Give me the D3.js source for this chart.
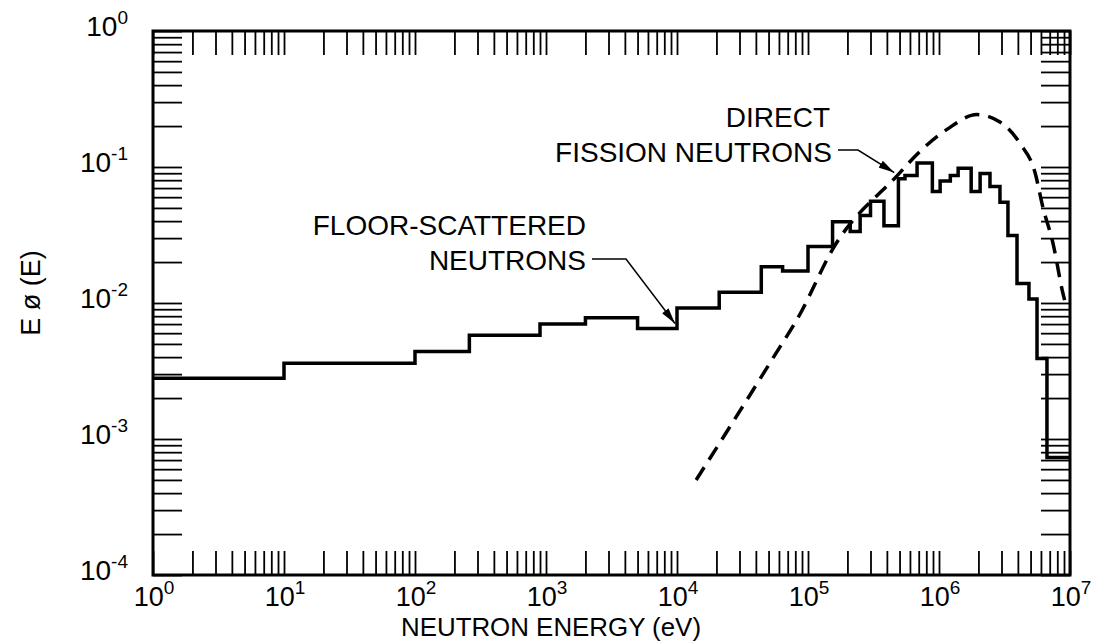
<!DOCTYPE html>
<html>
<head>
<meta charset="utf-8">
<script src="https://cdn.jsdelivr.net/npm/d3@7"></script>
<style>
  html, body { margin: 0; padding: 0; background: #fff; }
  svg { display: block; }
  text { font-family: "Liberation Sans", Arial, Helvetica, sans-serif; fill: #000; }
</style>
</head>
<body>
<svg id="chart" width="1101" height="641"></svg>
<script>
// Energy bin edges (eV) of the floor-scattered spectrum
const binEdges = [1, 10, 100, 260, 900, 2000, 5000, 1e4,
  2.1e4, 4.4e4, 6.4e4, 1e5, 1.54e5, 2.1e5, 2.5e5, 3.0e5, 3.8e5, 4.9e5,
  5.5e5, 6.8e5, 8.9e5, 1.02e6, 1.22e6, 1.4e6, 1.76e6,
  2.06e6, 2.45e6, 2.92e6, 3.36e6, 3.94e6, 4.86e6, 5.6e6, 6.67e6, 1e7];

// E·phi(E) per bin for floor-scattered neutrons
const floorScattered = [2.8e-3, 3.6e-3, 4.4e-3, 5.8e-3, 7.0e-3, 7.8e-3, 6.5e-3,
  9.2e-3, 0.012, 0.0185, 0.0172, 0.026, 0.0395, 0.0335, 0.044, 0.056, 0.037,
  0.082, 0.0865, 0.107, 0.066, 0.079, 0.0865, 0.098, 0.066, 0.0897, 0.072,
  0.055, 0.0313, 0.0139, 0.0107, 0.0039, 7.3e-4];

// Direct fission spectrum (energy eV, E·phi(E))
const fissionEnergy = [1.4e4, 5.46e4, 8.7e4, 1.54e5, 4.8e5, 7.2e5, 1.15e6,
  1.95e6, 2.92e6, 4.15e6, 5.4e6, 6.22e6, 7.41e6, 8.83e6, 9.1e6];
const fissionValue = [5.0e-4, 4.0e-3, 8.3e-3, 0.0248, 0.0865, 0.131, 0.189,
  0.243, 0.214, 0.149, 0.0914, 0.0502, 0.0276, 0.0118, 0.0105];

// Axis decades (exponents) used for tick labels
const xExponents = [0, 1, 2, 3, 4, 5, 6, 7];
const yExponents = [0, -1, -2, -3, -4];

const svg = d3.select("#chart");
const frame = { left: 153, right: 1070, top: 31, bottom: 575 };

const x = d3.scaleLog().domain([1, 1e7]).range([frame.left, frame.right]);
const y = d3.scaleLog().domain([1e-4, 1]).range([frame.bottom, frame.top]);

const tickLenX = 24, tickLenY = 29;

// Minor + major ticks on all four sides, pointing inward
function styleAxis(g) {
  g.select(".domain").remove();
  g.selectAll(".tick line").attr("stroke", "#000").attr("stroke-width", 1.8);
}
svg.append("g").attr("transform", `translate(0,${frame.bottom})`)
  .call(d3.axisBottom(x).tickValues(x.ticks()).tickSize(-tickLenX).tickFormat(""))
  .call(styleAxis);
svg.append("g").attr("transform", `translate(0,${frame.top})`)
  .call(d3.axisTop(x).tickValues(x.ticks()).tickSize(-tickLenX).tickFormat(""))
  .call(styleAxis);
svg.append("g").attr("transform", `translate(${frame.left},0)`)
  .call(d3.axisLeft(y).tickValues(y.ticks()).tickSize(-tickLenY).tickFormat(""))
  .call(styleAxis);
svg.append("g").attr("transform", `translate(${frame.right},0)`)
  .call(d3.axisRight(y).tickValues(y.ticks()).tickSize(-tickLenY).tickFormat(""))
  .call(styleAxis);

// Frame
svg.append("rect")
  .attr("x", frame.left).attr("y", frame.top)
  .attr("width", frame.right - frame.left).attr("height", frame.bottom - frame.top)
  .attr("fill", "none").attr("stroke", "#000").attr("stroke-width", 3);

// Power-of-ten labels
function powerLabel(sel, exp) {
  sel.append("tspan").text("10");
  sel.append("tspan").attr("dy", -12).attr("font-size", 19).text(String(exp));
}
xExponents.forEach(e => {
  const t = svg.append("text")
    .attr("x", x(Math.pow(10, e)) + 1).attr("y", frame.bottom + 31)
    .attr("text-anchor", "middle").attr("font-size", 27);
  powerLabel(t, e);
});
yExponents.forEach(e => {
  const t = svg.append("text")
    .attr("x", 128).attr("y", y(Math.pow(10, e)) + 5)
    .attr("text-anchor", "end").attr("font-size", 28);
  powerLabel(t, e);
});

// Axis titles
svg.append("text")
  .attr("x", 551).attr("y", 635.5)
  .attr("text-anchor", "middle").attr("font-size", 25)
  .attr("textLength", 300).attr("lengthAdjust", "spacingAndGlyphs")
  .text("NEUTRON ENERGY (eV)");
svg.append("text")
  .attr("transform", "translate(40,293) rotate(-90)")
  .attr("text-anchor", "middle").attr("font-size", 27)
  .text("E \u00f8 (E)");

// Floor-scattered histogram
const histPts = floorScattered.map((v, i) => [binEdges[i], v]);
histPts.push([binEdges[binEdges.length - 1], floorScattered[floorScattered.length - 1]]);
svg.append("path")
  .attr("d", d3.line().x(d => x(d[0])).y(d => y(d[1])).curve(d3.curveStepAfter)(histPts))
  .attr("fill", "none").attr("stroke", "#000").attr("stroke-width", 3.5)
  .attr("stroke-linejoin", "miter");

// Direct fission spectrum, dashed
svg.append("path")
  .attr("d", d3.line().x((d, i) => x(fissionEnergy[i])).y((d, i) => y(fissionValue[i]))
    .curve(d3.curveMonotoneX)(fissionEnergy))
  .attr("fill", "none").attr("stroke", "#000").attr("stroke-width", 3.5)
  .attr("stroke-dasharray", "15,9");

// Annotations with leader arrows
svg.append("defs").append("marker")
  .attr("id", "arrow").attr("viewBox", "0 0 16 8")
  .attr("refX", 16).attr("refY", 4)
  .attr("markerWidth", 16).attr("markerHeight", 8)
  .attr("markerUnits", "userSpaceOnUse").attr("orient", "auto")
  .append("path").attr("d", "M0,0 L16,4 L0,8 Z").attr("fill", "#000");

function annotate(lines, rights, baselines, leader) {
  lines.forEach((s, i) => {
    svg.append("text").attr("x", rights[i]).attr("y", baselines[i])
      .attr("text-anchor", "end").attr("font-size", 28).text(s);
  });
  svg.append("path")
    .attr("d", d3.line()(leader))
    .attr("fill", "none").attr("stroke", "#000").attr("stroke-width", 1.5)
    .attr("marker-end", "url(#arrow)");
}

annotate(["FLOOR-SCATTERED", "NEUTRONS"], [586, 586], [235, 270],
  [[592, 259], [626, 259], [x(1e4) - 2, y(6.5e-3) - 5]]);
annotate(["DIRECT", "FISSION NEUTRONS"], [830, 832], [127, 162],
  [[838, 150], [858, 150], [x(4.8e5) - 3, y(0.0865) - 3]]);
</script>
</body>
</html>
